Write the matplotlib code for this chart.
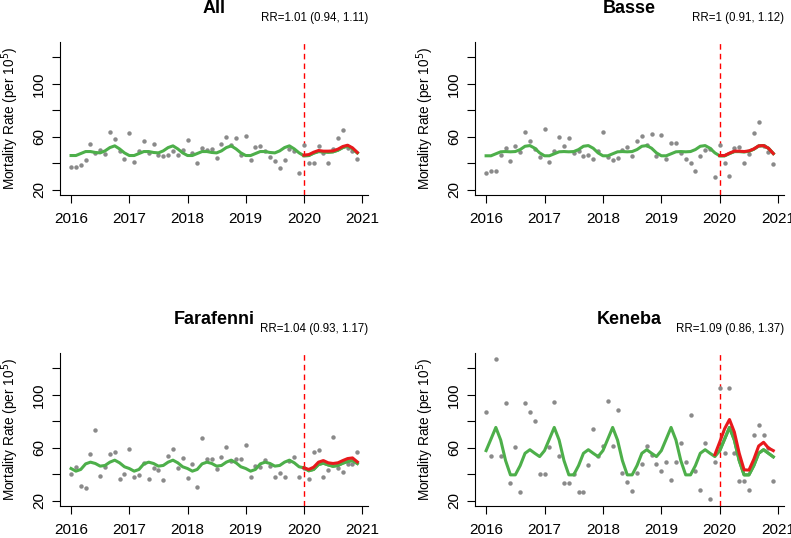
import matplotlib
matplotlib.use("Agg")
import matplotlib.pyplot as plt
import numpy as np
import pandas as pd

plt.rcParams["font.family"] = ["Liberation Sans", "DejaVu Sans"]

# monthly series Jan 2016 .. Dec 2020
dates = pd.date_range("2016-01-01", "2020-12-01", freq="MS")

# ---- All ----
all_obs = [37.6, 37.6, 39.0, 42.6, 55.0, 48.0, 50.4, 47.0, 63.5, 58.7, 49.7, 43.4,
           62.8, 41.0, 49.7, 57.2, 48.0, 54.5, 46.7, 45.4, 46.2, 49.7, 46.2, 50.4,
           57.7, 48.0, 40.6, 51.7, 50.2, 51.0, 44.0, 55.0, 60.0, 53.7, 59.5, 46.7,
           60.8, 42.4, 52.5, 53.2, 49.7, 45.0, 41.9, 36.4, 42.4, 51.2, 49.5, 32.6,
           54.2, 40.6, 40.1, 53.2, 48.0, 40.6, 51.0, 59.2, 65.3, 51.7, 49.2, 43.1]
all_exp = [46.0, 46.0, 47.5, 49.0, 49.0, 48.3, 48.0, 49.5, 52.0, 53.3, 51.0, 48.0,
           46.0, 46.0, 47.5, 49.0, 49.0, 48.3, 48.0, 49.5, 52.0, 53.3, 51.0, 48.0,
           46.0, 46.0, 47.5, 49.0, 49.0, 48.3, 48.0, 49.5, 52.0, 53.3, 51.0, 48.0,
           46.0, 46.0, 47.5, 49.0, 49.0, 48.3, 48.0, 49.5, 52.0, 53.3, 51.0, 48.0,
           45.8, 46.0, 47.8, 49.0, 48.8, 48.5, 48.8, 50.0, 52.0, 53.2, 51.2, 48.0]
all_fit = [46.3, 46.7, 48.5, 49.8, 49.3, 49.3, 49.5, 50.8, 52.8, 53.8, 51.8, 48.3]

# ---- Basse ----
basse_obs = [33.1, 34.1, 34.1, 46.2, 52.0, 41.9, 53.2, 48.9, 63.5, 57.2, 51.2, 45.0,
             65.8, 41.1, 49.7, 60.3, 53.2, 59.2, 47.9, 49.7, 45.4, 46.7, 43.6, 49.7,
             63.8, 45.0, 42.4, 44.2, 50.2, 52.5, 45.9, 56.7, 60.8, 54.2, 62.0, 45.4,
             61.8, 43.6, 55.5, 55.5, 47.7, 43.6, 40.1, 34.3, 45.4, 50.2, 51.2, 30.0,
             53.7, 40.6, 30.8, 52.0, 52.5, 40.6, 47.0, 63.0, 71.3, 53.2, 48.9, 39.6]
basse_exp = [45.8, 45.8, 47.3, 48.8, 49.0, 48.8, 49.0, 50.5, 53.0, 53.5, 51.5, 48.0,
             45.8, 45.8, 47.3, 48.8, 49.0, 48.8, 49.0, 50.5, 53.0, 53.5, 51.5, 48.0,
             45.8, 45.8, 47.3, 48.8, 49.0, 48.8, 49.0, 50.5, 53.0, 53.5, 51.5, 48.0,
             45.8, 45.8, 47.3, 48.8, 49.0, 48.8, 49.0, 50.5, 53.0, 53.5, 51.5, 48.0,
             45.8, 45.8, 47.5, 49.0, 49.0, 48.8, 49.2, 50.8, 53.2, 53.5, 51.5, 47.5]
basse_fit = [46.0, 46.0, 47.8, 49.3, 49.3, 49.0, 49.5, 51.0, 53.3, 53.5, 51.5, 47.5]

# ---- Farafenni ----
fara_obs = [40.3, 46.0, 31.3, 29.5, 55.3, 73.3, 38.5, 45.8, 55.3, 57.0, 36.8, 40.3,
            59.5, 37.8, 39.5, 48.8, 36.3, 45.0, 43.3, 36.0, 54.3, 59.5, 45.0, 52.3,
            37.5, 48.0, 30.3, 67.5, 51.8, 51.8, 44.3, 53.5, 60.5, 50.5, 51.8, 51.8,
            62.0, 37.8, 46.5, 45.8, 51.3, 46.5, 37.8, 41.3, 37.8, 50.0, 53.3, 37.8,
            45.0, 36.8, 56.8, 58.3, 38.3, 43.3, 68.3, 45.0, 41.5, 48.0, 48.0, 56.8]
fara_exp = [44.5, 42.5, 43.8, 48.0, 49.3, 48.3, 46.3, 46.8, 49.3, 50.8, 48.8, 45.8,
            44.5, 42.5, 43.8, 48.0, 49.3, 48.3, 46.3, 46.8, 49.3, 50.8, 48.8, 45.8,
            44.5, 42.5, 43.8, 48.0, 49.3, 48.3, 46.3, 46.8, 49.3, 50.8, 48.8, 45.8,
            44.5, 42.5, 43.8, 48.0, 49.3, 48.3, 46.3, 46.8, 49.3, 50.8, 48.8, 45.8,
            45.0, 42.8, 43.8, 47.5, 48.5, 47.2, 46.2, 46.8, 48.5, 49.8, 50.5, 48.3]
fara_fit = [45.0, 43.8, 45.5, 49.3, 50.5, 48.8, 48.3, 48.8, 50.5, 52.0, 52.5, 49.5]

# ---- Keneba ----
ken_obs = [87.5, 53.8, 127.5, 53.8, 94.0, 33.5, 60.5, 27.0, 94.0, 87.2, 80.5, 40.3,
           40.3, 60.7, 94.7, 54.0, 33.7, 33.7, 40.0, 27.0, 27.0, 47.2, 74.5, 54.0,
           61.7, 95.7, 61.5, 89.0, 41.2, 34.2, 27.5, 41.2, 48.0, 61.7, 54.7, 48.0,
           42.5, 49.5, 35.5, 49.5, 63.7, 49.5, 85.0, 42.5, 28.5, 63.7, 21.2, 49.5,
           105.0, 56.0, 105.0, 56.0, 35.0, 35.0, 28.2, 70.0, 77.0, 70.0, 60.0, 35.0]
ken_exp = [58.0, 66.7, 75.5, 66.0, 50.5, 39.7, 39.7, 46.7, 56.0, 58.7, 56.0, 53.5,
           58.0, 66.7, 75.5, 66.0, 50.5, 39.7, 39.7, 46.7, 56.0, 58.7, 56.0, 53.5,
           58.0, 66.7, 75.5, 66.0, 50.5, 39.7, 39.7, 46.7, 56.0, 58.7, 56.0, 53.5,
           58.0, 66.7, 75.5, 66.0, 50.5, 39.7, 39.7, 46.7, 56.0, 58.7, 56.0, 53.5,
           58.0, 66.7, 75.5, 66.0, 50.5, 39.7, 39.7, 46.7, 56.0, 58.7, 56.0, 53.3]
ken_fit = [55.0, 64.5, 74.5, 81.5, 72.0, 56.0, 43.5, 43.3, 51.5, 61.5, 64.3, 60.0, 58.0]

titles = ["All", "Basse", "Farafenni", "Keneba"]
rr_text = ["RR=1.01 (0.94, 1.11)", "RR=1 (0.91, 1.12)",
           "RR=1.04 (0.93, 1.17)", "RR=1.09 (0.86, 1.37)"]
fit_start = ["2020-01-01", "2020-01-01", "2020-01-01", "2019-12-01"]


def dec_year(d):
    return d.year + (d.month - 1) / 12.0


x_all = np.array([dec_year(d) for d in dates])

panels = [
    (all_obs, all_exp, all_fit),
    (basse_obs, basse_exp, basse_fit),
    (fara_obs, fara_exp, fara_fit),
    (ken_obs, ken_exp, ken_fit),
]

fig = plt.figure(figsize=(7.91, 5.38), dpi=100)
W, H = 791.0, 538.0
boxes = [(60, 42, 368, 195), (475, 42, 784, 195),
         (60, 353, 368, 506), (475, 353, 784, 506)]

for i, (obs, exp, fit) in enumerate(panels):
    l, t, r, b = boxes[i]
    ax = fig.add_axes([l / W, 1 - b / H, (r - l) / W, (b - t) / H])

    ax.axvline(2020, color="#FF0000", linestyle=(0, (4, 3)), linewidth=1.0, zorder=1)
    ax.plot(x_all, obs, "o", color="#8a8a8a", markersize=3.2,
            markeredgewidth=0, zorder=2)
    ax.plot(x_all, exp, color="#4DAF4A", linewidth=2.2, zorder=3)

    fit_dates = pd.date_range(fit_start[i], periods=len(fit), freq="MS")
    x_fit = [dec_year(d) for d in fit_dates]
    ax.plot(x_fit, fit, color="#E8191C", linewidth=2.2, zorder=4)
    # green drawn over red where they coincide in the reference
    ax.plot(x_all[48:], exp[48:], color="#4DAF4A", linewidth=2.2, zorder=3.5)

    ax.set_xlim(2015.81, 2021.1)
    ax.set_ylim(16.2, 131.7)
    ax.set_xticks([2016, 2017, 2018, 2019, 2020, 2021])
    ax.set_yticks([20, 40, 60, 80, 100, 120])
    ax.set_yticklabels(["20", "", "60", "", "100", ""], rotation=90, va="center")
    ax.spines["top"].set_visible(False)
    ax.spines["right"].set_visible(False)
    for s in ("left", "bottom"):
        ax.spines[s].set_linewidth(0.8)
    ax.tick_params(axis="x", length=6, width=0.8, labelsize=11, pad=6)
    ax.tick_params(axis="y", length=6, width=0.8, labelsize=11, pad=4)

    ax.set_ylabel(r"Mortality Rate (per 10$^5$)", fontsize=9.8)
    ax.yaxis.set_label_coords(-39 / (r - l), 0.5)

    ax.text(0.5, 1 + 29 / (b - t), titles[i], transform=ax.transAxes,
            ha="center", va="baseline", fontsize=13, fontweight="bold")
    ax.text(1.0, 1 + 21 / (b - t), rr_text[i], transform=ax.transAxes,
            ha="right", va="baseline", fontsize=8.3)

fig.savefig("out.png", dpi=100)
